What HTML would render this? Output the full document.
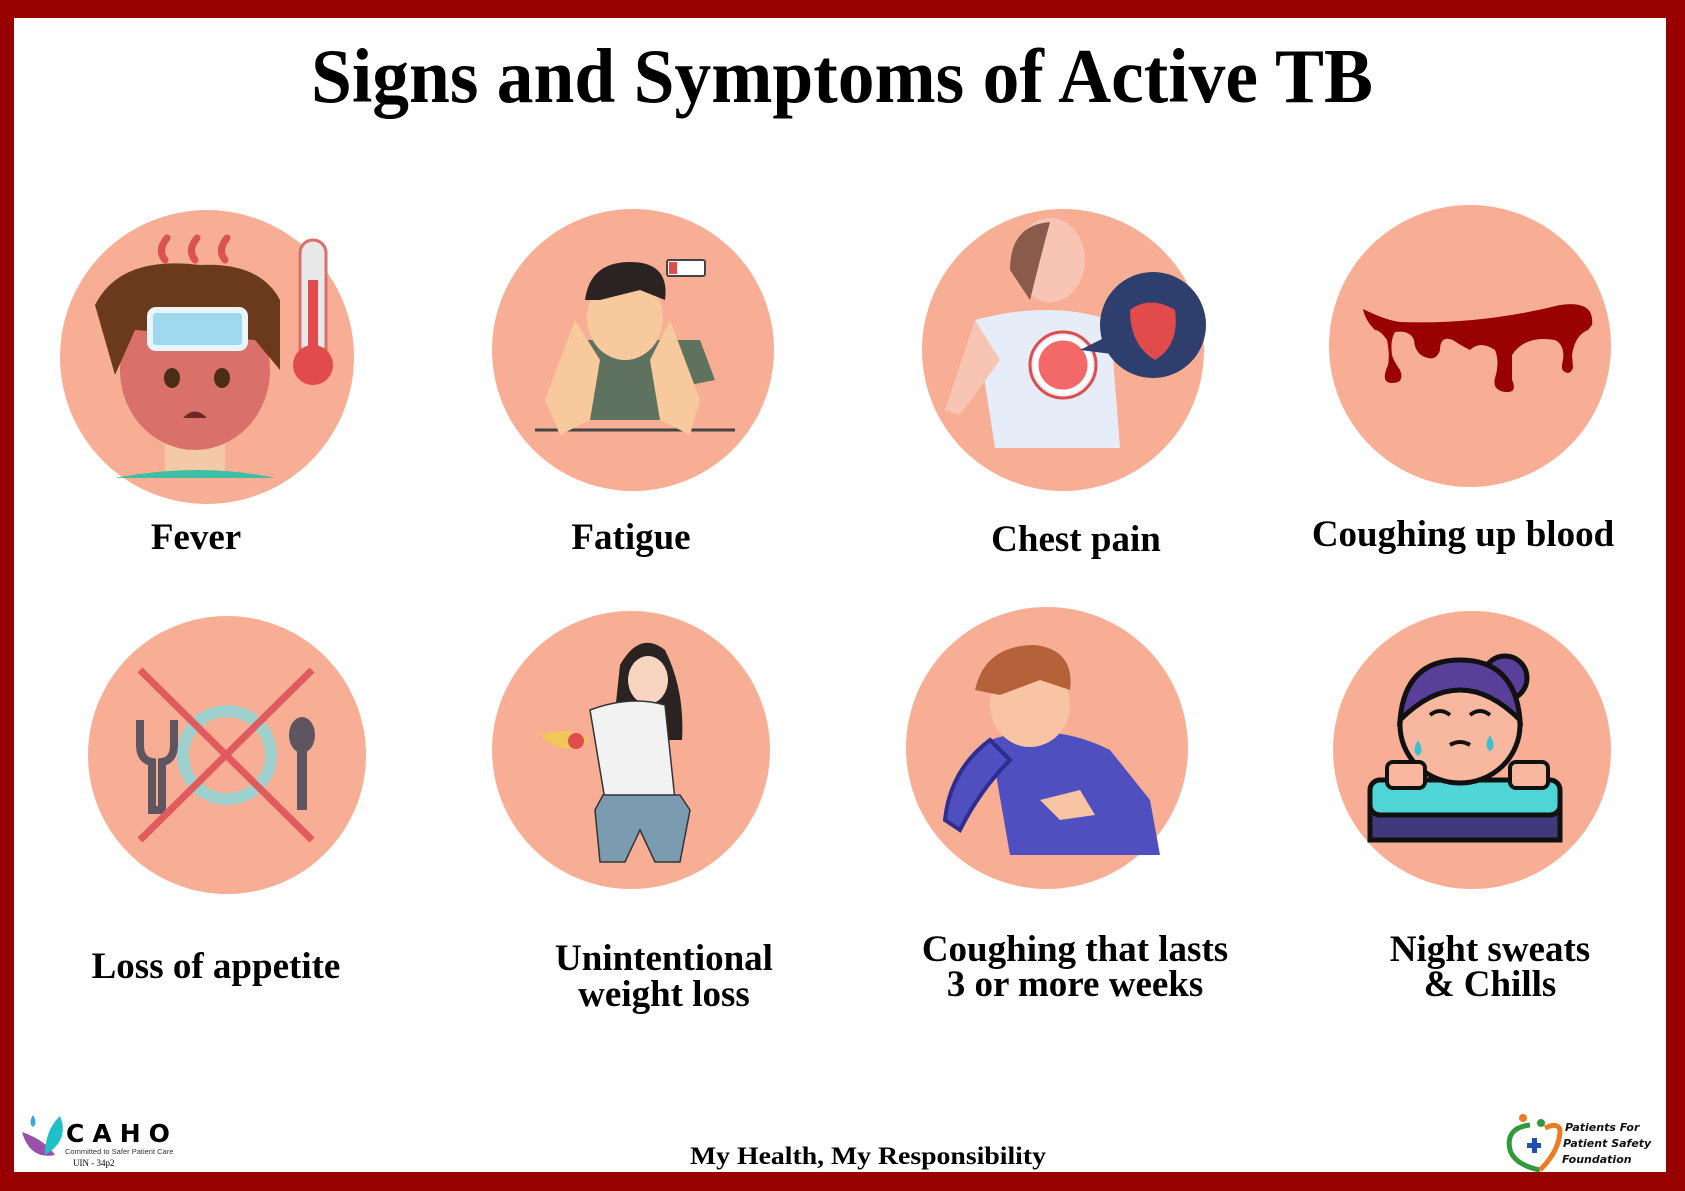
<!DOCTYPE html>
<html><head><meta charset="utf-8"><style>
html,body{margin:0;padding:0;background:#fff;}
svg{display:block}
</style></head><body>
<svg width="1685" height="1191" viewBox="0 0 1685 1191" xmlns="http://www.w3.org/2000/svg">
<rect width="1685" height="1191" fill="#990000"/>
<rect x="14" y="18" width="1652" height="1154" fill="#fff"/>
<text x="842" y="102" text-anchor="middle" font-family="Liberation Serif, serif" font-weight="bold" font-size="77" textLength="1062" lengthAdjust="spacingAndGlyphs">Signs and Symptoms of Active TB</text>

<g fill="#f8ae94">
<circle cx="207" cy="357" r="147"/>
<circle cx="633" cy="350" r="141"/>
<circle cx="1063" cy="350" r="141"/>
<circle cx="1470" cy="346" r="141"/>
<circle cx="227" cy="755" r="139"/>
<circle cx="631" cy="750" r="139"/>
<circle cx="1047" cy="748" r="141"/>
<circle cx="1472" cy="750" r="139"/>
</g>

<!-- Fever -->
<g>
<rect x="165" y="440" width="60" height="35" fill="#f4c9a8"/>
<path d="M115 478 Q200 462 275 478 Z" fill="#3dbfa5"/>
<ellipse cx="195" cy="370" rx="75" ry="80" fill="#d9706a"/>
<path d="M95 305 Q120 255 200 265 Q260 262 280 300 L280 370 L255 340 L135 330 L115 375 Z" fill="#6b3a1c"/>
<rect x="150" y="310" width="95" height="38" rx="6" fill="#9fd9ef" stroke="#e9f5fb" stroke-width="6"/>
<ellipse cx="172" cy="378" rx="8" ry="10" fill="#4a2c17"/>
<ellipse cx="222" cy="378" rx="8" ry="10" fill="#4a2c17"/>
<path d="M183 418 Q195 405 207 418 Z" fill="#6b2a28"/>
<path d="M165 260 q-8-10 2-22 M195 260 q-8-10 2-22 M225 260 q-8-10 2-22" stroke="#d9534f" stroke-width="7" fill="none" stroke-linecap="round"/>
<rect x="300" y="240" width="26" height="130" rx="13" fill="#e8e8e8" stroke="#d9706a" stroke-width="3"/>
<circle cx="313" cy="365" r="20" fill="#e14b4b"/>
<rect x="308" y="280" width="10" height="85" fill="#e14b4b"/>
</g>
<!-- Fatigue -->
<g>
<line x1="535" y1="430" x2="735" y2="430" stroke="#444" stroke-width="3"/>
<path d="M575 340 L700 340 L715 380 L690 385 L680 420 L590 420 L580 385 Z" fill="#5f7260"/>
<ellipse cx="625" cy="318" rx="38" ry="42" fill="#f8c99d"/>
<path d="M585 300 Q590 262 630 262 Q670 262 665 300 L640 290 L600 300 Z" fill="#2b2222"/>
<path d="M575 320 L545 400 L560 435 L590 420 L600 360 Z M670 320 L700 400 L690 435 L660 420 L650 360 Z" fill="#f8c99d"/>
<rect x="667" y="260" width="38" height="16" rx="2" fill="#fff" stroke="#444" stroke-width="2"/>
<rect x="669" y="262" width="8" height="12" fill="#e14b4b"/>
</g>
<!-- Chest pain -->
<g>
<path d="M975 320 Q1050 300 1110 320 L1120 448 L995 448 Z" fill="#e6ecf8"/>
<path d="M975 320 L945 410 L960 415 L1000 360 Z" fill="#f8c4b4"/>
<ellipse cx="1050" cy="260" rx="35" ry="42" fill="#f8c4b4"/>
<path d="M1010 270 Q1010 225 1050 222 L1040 260 L1030 300 Z" fill="#8a5a4a"/>
<circle cx="1063" cy="365" r="27" fill="#f36868" stroke="#fff" stroke-width="5"/>
<circle cx="1063" cy="365" r="33" fill="none" stroke="#e14b4b" stroke-width="3"/>
<path d="M1080 350 L1110 335 L1120 355 Z" fill="#2e3f6e"/>
<circle cx="1153" cy="325" r="53" fill="#2e3f6e"/>
<path d="M1130 310 Q1150 295 1175 310 Q1180 345 1155 360 Q1130 345 1130 310Z" fill="#e14b4b"/>
</g>
<!-- Blood -->
<path d="M1363 309 Q1385 320 1400 322 Q1480 325 1560 305 Q1595 300 1592 325 L1588 330 Q1575 335 1572 355 L1573 368 Q1570 375 1565 372 Q1560 370 1563 360 Q1565 345 1555 340 Q1525 335 1512 355 L1512 380 Q1518 393 1505 392 Q1492 390 1495 378 Q1500 362 1495 350 Q1480 340 1470 350 Q1460 345 1453 340 Q1440 335 1440 350 Q1437 360 1428 358 Q1415 355 1414 340 Q1410 330 1395 332 Q1390 340 1392 355 Q1393 360 1400 370 Q1405 383 1392 383 Q1380 383 1388 365 Q1390 355 1387 340 Q1380 330 1375 330 Q1365 320 1363 309Z" fill="#990000"/>
<!-- Loss of appetite -->
<g>
<circle cx="227" cy="755" r="44" fill="none" stroke="#9ed0cd" stroke-width="12"/>
<path d="M140 720 L140 745 Q140 760 152 762 L152 810 L162 810 L162 762 Q174 760 174 745 L174 720" stroke="#5e5560" stroke-width="8" fill="none"/>
<ellipse cx="302" cy="735" rx="13" ry="18" fill="#5e5560"/>
<rect x="297" y="750" width="10" height="60" fill="#5e5560"/>
<line x1="140" y1="670" x2="312" y2="840" stroke="#e05a5e" stroke-width="7"/>
<line x1="312" y1="670" x2="140" y2="840" stroke="#e05a5e" stroke-width="7"/>
</g>
<!-- Weight loss -->
<g>
<path d="M620 665 Q640 630 665 650 Q685 690 682 740 L612 740 Z" fill="#2b2222"/>
<ellipse cx="648" cy="680" rx="20" ry="24" fill="#f8d5c0"/>
<path d="M590 710 Q630 695 665 705 L675 800 L605 800 Z" fill="#f2f2f2" stroke="#333" stroke-width="1.5"/>
<path d="M603 795 L680 795 L690 810 L680 862 L655 862 L640 830 L625 862 L600 862 L595 810 Z" fill="#7b9cb0" stroke="#333" stroke-width="1.5"/>
<path d="M540 735 Q565 760 590 740 Q570 725 540 735Z" fill="#f1c75a"/>
<circle cx="576" cy="741" r="8" fill="#e14b4b"/>
</g>
<!-- Coughing -->
<g>
<path d="M990 740 Q1050 720 1110 750 L1150 800 L1160 855 L1010 855 Z" fill="#4f4fc0"/>
<path d="M990 740 Q950 770 945 820 L960 830 Q980 790 1010 760 Z" fill="#4f4fc0" stroke="#2e2e90" stroke-width="4"/>
<ellipse cx="1030" cy="705" rx="40" ry="42" fill="#f8c4a4"/>
<path d="M975 690 Q985 645 1035 645 Q1075 650 1070 690 L1040 680 L1000 695 Z" fill="#b5623a"/>
<path d="M1040 800 L1080 790 L1095 815 L1060 820 Z" fill="#f8c4a4"/>
</g>
<!-- Night sweats -->
<g>
<path d="M1370 800 Q1472 780 1560 800 L1560 840 L1370 840 Z" fill="#403a7c" stroke="#111" stroke-width="5"/>
<rect x="1370" y="780" width="190" height="35" rx="10" fill="#4fd5d5" stroke="#111" stroke-width="5"/>
<circle cx="1505" cy="678" r="22" fill="#5a3f9a" stroke="#111" stroke-width="5"/>
<ellipse cx="1460" cy="725" rx="60" ry="58" fill="#f8b8a0" stroke="#111" stroke-width="5"/>
<path d="M1400 720 Q1405 660 1460 660 Q1515 660 1520 720 Q1490 690 1460 690 Q1430 690 1400 720Z" fill="#5a3f9a" stroke="#111" stroke-width="5"/>
<path d="M1430 715 q10-8 20 0 M1470 715 q10-8 20 0 M1450 745 q10-6 20 0" stroke="#111" stroke-width="4" fill="none"/>
<path d="M1490 735 q-7 12 0 16 q7-4 0-16z M1418 740 q-7 12 0 16 q7-4 0-16z" fill="#3dbfd0"/>
<rect x="1387" y="762" width="38" height="26" rx="6" fill="#f8b8a0" stroke="#111" stroke-width="4"/>
<rect x="1510" y="762" width="38" height="26" rx="6" fill="#f8b8a0" stroke="#111" stroke-width="4"/>
</g>

<g font-family="Liberation Serif, serif" font-weight="bold" font-size="37" text-anchor="middle" fill="#000">
<text x="196" y="549">Fever</text>
<text x="631" y="549">Fatigue</text>
<text x="1076" y="551">Chest pain</text>
<text x="1463" y="546">Coughing up blood</text>
<text x="216" y="978">Loss of appetite</text>
<text x="664" y="970">Unintentional</text>
<text x="664" y="1006">weight loss</text>
<text x="1075" y="961">Coughing that lasts</text>
<text x="1075" y="996">3 or more weeks</text>
<text x="1490" y="961">Night sweats</text>
<text x="1490" y="996">&amp; Chills</text>
</g>
<text x="868" y="1164" text-anchor="middle" font-family="Liberation Serif, serif" font-weight="bold" font-size="25" textLength="356" lengthAdjust="spacingAndGlyphs">My Health, My Responsibility</text>

<!-- CAHO logo -->
<path d="M22 1132 Q30 1160 55 1155 Q45 1140 22 1132Z" fill="#9b4fa8"/>
<path d="M45 1155 Q70 1140 60 1116 Q45 1130 45 1155Z" fill="#1fc0c8"/>
<path d="M33 1115 q-5 8 0 12 q5-4 0-12z" fill="#3ba7d8"/>
<text x="66" y="1142" font-family="DejaVu Sans, sans-serif" font-weight="bold" font-size="25" letter-spacing="8">CAHO</text>
<text x="65" y="1154" font-family="Liberation Sans, sans-serif" font-size="7.5" fill="#333">Committed to Safer Patient Care</text>
<text x="73" y="1166" font-family="Liberation Serif, serif" font-size="9">UIN -  34p2</text>

<!-- PFPS logo -->
<path d="M1530 1125 Q1505 1128 1510 1150 Q1515 1165 1540 1170" stroke="#2e9a3a" stroke-width="5" fill="none"/>
<path d="M1540 1170 Q1560 1150 1560 1130 Q1558 1122 1545 1128" stroke="#f07a20" stroke-width="5" fill="none"/>
<circle cx="1523" cy="1118" r="4" fill="#f07a20"/><circle cx="1541" cy="1123" r="4" fill="#2e9a3a"/>
<rect x="1527" y="1143" width="14" height="5" fill="#1f4fb0"/><rect x="1532" y="1138" width="5" height="15" fill="#1f4fb0"/>
<g font-family="DejaVu Sans, sans-serif" font-weight="bold" font-style="italic" font-size="11" fill="#111">
<text x="1565" y="1131">Patients For</text>
<text x="1563" y="1147">Patient Safety</text>
<text x="1562" y="1163">Foundation</text>
</g>
</svg>
</body></html>
